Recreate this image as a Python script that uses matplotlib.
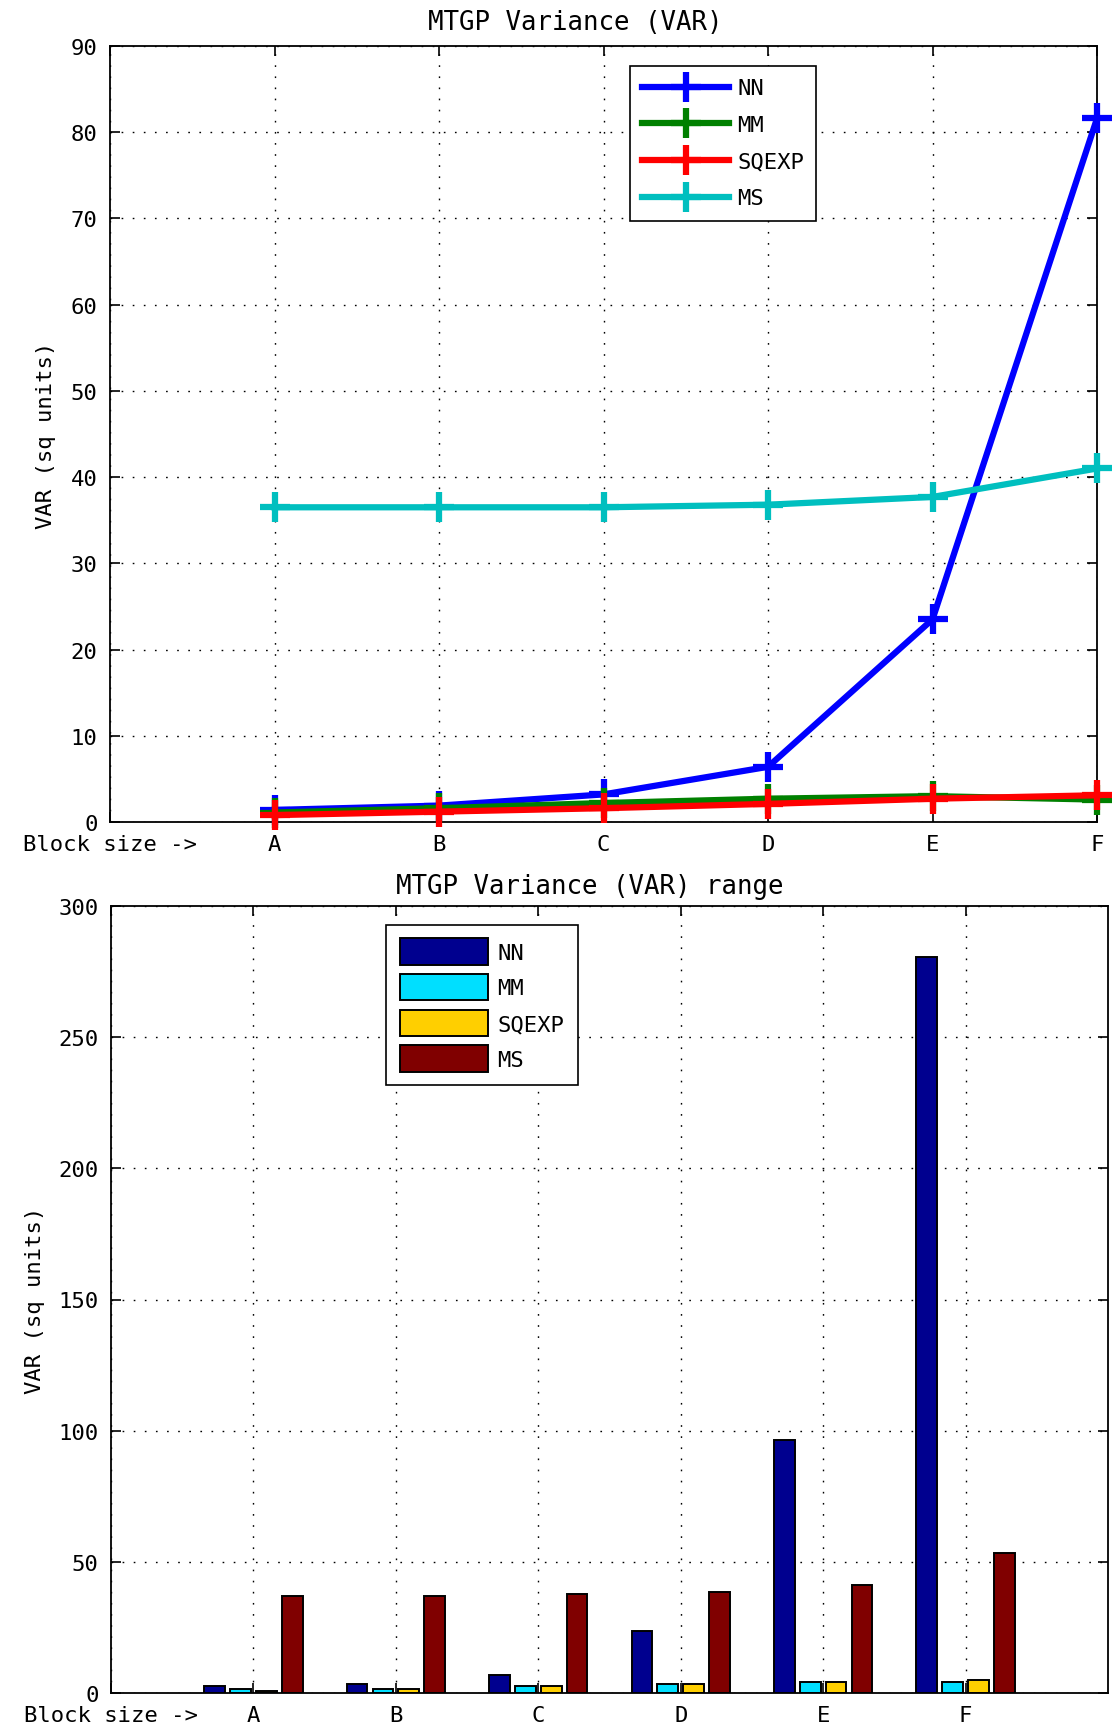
import numpy as np
import matplotlib
matplotlib.use("Agg")
from matplotlib import pyplot as plt

plt.rcParams['font.family'] = ['DejaVu Sans Mono', 'DejaVu Sans']
plt.rcParams['font.size'] = 16

# данные
blocks = ['A', 'B', 'C', 'D', 'E', 'F']
series_names = ['NN', 'MM', 'SQEXP', 'MS']

# верхний график - дисперсия
nn_var = [1.4, 1.9, 3.2, 6.4, 23.5, 81.6]
mm_var = [1.1, 1.6, 2.2, 2.7, 3.0, 2.6]
sqexp_var = [0.8, 1.2, 1.6, 2.1, 2.7, 3.1]
ms_var = [36.5, 36.5, 36.5, 36.8, 37.7, 41.0]

# нижний график - размах дисперсии
nn_rng = [2.8, 3.4, 7.0, 23.6, 96.6, 280.6]
mm_rng = [1.7, 1.5, 2.5, 3.4, 4.2, 4.2]
sqexp_rng = [0.9, 1.5, 2.5, 3.4, 4.2, 5.1]
ms_rng = [36.9, 36.9, 37.7, 38.5, 41.1, 53.4]

line_colors = [(0, 0, 1), (0, 0.5, 0), (1, 0, 0), (0, 0.75, 0.75)]
bar_colors = [(0, 0, 0.5625), (0, 0.875, 1), (1, 0.8125, 0), (0.5, 0, 0)]
grid_style = (0, (1.2, 6.8))

W, H = 1113, 1733
fig = plt.figure(figsize=(W / 100, H / 100), dpi=100)
ax1 = fig.add_axes([110 / W, 1 - 823 / H, 987 / W, 776 / H])
ax2 = fig.add_axes([111 / W, 1 - 1694 / H, 997 / W, 787 / H])

x = np.arange(1, len(blocks) + 1)
xlabels = ['Block size ->'] + blocks

# верхний график
for vals, col, name in zip([nn_var, mm_var, sqexp_var, ms_var], line_colors, series_names):
    ax1.plot(x, vals, color=col, lw=4.5, marker='+', ms=22, mew=4.5,
             label=name, clip_on=False, zorder=3)

ax1.set_xlim(0, 6)
ax1.set_ylim(0, 90)
ax1.set_xticks(range(len(xlabels)))
ax1.set_xticklabels(xlabels)
ax1.set_yticks(range(0, 91, 10))
ax1.grid(True, color='k', linestyle=grid_style, lw=1.0)
ax1.set_title('MTGP Variance (VAR)', x=0.471, pad=12, fontsize=18.5)
ax1.set_ylabel('VAR (sq units)')
ax1.yaxis.set_label_coords(-0.055, 0.5)

leg1 = ax1.legend(loc='upper left', bbox_to_anchor=(0.527, 0.974), borderaxespad=0,
                  fancybox=False, edgecolor='k', framealpha=1, handlelength=3.9,
                  handletextpad=0.36, labelspacing=0.75, borderpad=0.55, numpoints=1)
leg1.get_frame().set_linewidth(1.2)

# нижний график
slot = 0.727 / 4
offsets = (np.arange(4) - 1.5) * slot
for vals, off, col, name in zip([nn_rng, mm_rng, sqexp_rng, ms_rng], offsets, bar_colors, series_names):
    ax2.bar(x + off, vals, width=0.8 * slot, color=col, edgecolor='k', lw=1.4, label=name)

ax2.set_axisbelow(True)
ax2.set_xlim(0, 7)
ax2.set_ylim(0, 300)
ax2.set_xticks(range(len(xlabels)))
ax2.set_xticklabels(xlabels)
ax2.set_yticks(range(0, 301, 50))
ax2.grid(True, color='k', linestyle=grid_style, lw=1.0)
ax2.set_title('MTGP Variance (VAR) range', x=0.48, pad=9, fontsize=18.5)
ax2.set_ylabel('VAR (sq units)')
ax2.yaxis.set_label_coords(-0.066, 0.5)

leg2 = ax2.legend(loc='upper left', bbox_to_anchor=(0.276, 0.976), borderaxespad=0,
                  fancybox=False, edgecolor='k', framealpha=1, handlelength=3.96,
                  handleheight=1.45, handletextpad=0.45, labelspacing=0.42, borderpad=0.6)
leg2.get_frame().set_linewidth(1.2)

for ax in (ax1, ax2):
    ax.tick_params(direction='in', length=7, width=1.2, top=True, right=True, pad=9)
    for sp in ax.spines.values():
        sp.set_linewidth(1.3)

fig.savefig('out.png', dpi=100, facecolor='white')
